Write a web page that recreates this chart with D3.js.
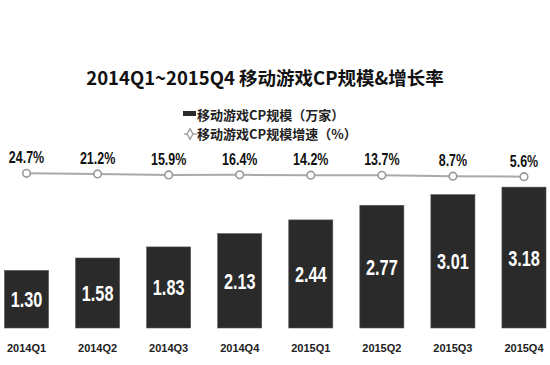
<!DOCTYPE html>
<html>
<head>
<meta charset="utf-8">
<script src="https://cdn.jsdelivr.net/npm/d3@7"></script>
<style>
  body { margin: 0; background: #fff; }
  svg { display: block; }
</style>
</head>
<body>
<script>
const quarters = ['2014Q1', '2014Q2', '2014Q3', '2014Q4', '2015Q1', '2015Q2', '2015Q3', '2015Q4'];
const cpCount = [1.30, 1.58, 1.83, 2.13, 2.44, 2.77, 3.01, 3.18];   // 万家
const growth = [24.7, 21.2, 15.9, 16.4, 14.2, 13.7, 8.7, 5.6];     // %

const W = 550, H = 365;
const cjk = '"Noto Sans CJK SC", "Noto Sans", sans-serif';
const latin = '"Liberation Sans", Arial, sans-serif';

const svg = d3.select('body').append('svg')
  .attr('width', W)
  .attr('height', H);

// x: one band per quarter
const x = d3.scaleBand()
  .domain(quarters)
  .range([-9, 559.5])
  .paddingInner(0.38)
  .paddingOuter(0.19);

// bars on their own scale, growth line on a very flat one
const y = d3.scaleLinear().domain([0, 4]).range([328, 328 - 177.2]);
const yPct = d3.scaleLinear().domain([0, 100]).range([177.7, 160]);

const cx = d => x(d) + x.bandwidth() / 2;

// title
svg.append('text')
  .attr('x', 265).attr('y', 85)
  .attr('text-anchor', 'middle')
  .style('font-family', cjk)
  .style('font-weight', 'bold')
  .style('font-size', '18.5px')
  .attr('fill', '#111')
  .text('2014Q1~2015Q4 移动游戏CP规模&增长率');

// legend
const lg = svg.append('g');
lg.append('rect')
  .attr('x', 183).attr('y', 111).attr('width', 13).attr('height', 5)
  .attr('fill', '#2a2a2a');
lg.append('text')
  .attr('x', 197).attr('y', 120)
  .style('font-family', cjk).style('font-weight', 'bold').style('font-size', '13px')
  .attr('fill', '#222')
  .text('移动游戏CP规模（万家）');
lg.append('line')
  .attr('x1', 184).attr('x2', 197).attr('y1', 134).attr('y2', 134)
  .attr('stroke', '#aaa').attr('stroke-width', 1.5);
lg.append('path')
  .attr('d', d3.symbol(d3.symbolDiamond, 30)())
  .attr('transform', 'translate(190,134)')
  .attr('fill', '#fff').attr('stroke', '#999').attr('stroke-width', 1.3);
lg.append('text')
  .attr('x', 197).attr('y', 139)
  .style('font-family', cjk).style('font-weight', 'bold').style('font-size', '13px')
  .attr('fill', '#222')
  .text('移动游戏CP规模增速（%）');

// bars
const rows = quarters.map((q, i) => ({ q, v: cpCount[i], g: growth[i] }));

svg.append('g').selectAll('rect')
  .data(rows)
  .join('rect')
  .attr('x', d => x(d.q))
  .attr('y', d => y(d.v))
  .attr('width', x.bandwidth())
  .attr('height', d => y(0) - y(d.v))
  .attr('fill', '#2a2a2a')
  .attr('stroke', '#555')
  .attr('stroke-width', 0.6);

// condensed look: squeeze the labels horizontally
svg.append('g').selectAll('text')
  .data(rows)
  .join('text')
  .attr('transform', d => `translate(${cx(d.q)},${(y(d.v) + y(0)) / 2 + 8}) scale(0.74,1)`)
  .attr('text-anchor', 'middle')
  .style('font-family', latin).style('font-weight', 'bold').style('font-size', '22px')
  .attr('fill', '#fff')
  .text(d => d.v.toFixed(2));

// growth line
const line = d3.line()
  .x(d => cx(d.q))
  .y(d => yPct(d.g));

svg.append('path')
  .datum(rows)
  .attr('d', line)
  .attr('fill', 'none')
  .attr('stroke', '#aaa')
  .attr('stroke-width', 2);

svg.append('g').selectAll('circle')
  .data(rows)
  .join('circle')
  .attr('cx', d => cx(d.q))
  .attr('cy', d => yPct(d.g))
  .attr('r', 3.8)
  .attr('fill', '#fff')
  .attr('stroke', '#999')
  .attr('stroke-width', 1.6);

svg.append('g').selectAll('text')
  .data(rows)
  .join('text')
  .attr('transform', d => `translate(${cx(d.q)},${yPct(d.g) - 10}) scale(0.78,1)`)
  .attr('text-anchor', 'middle')
  .style('font-family', latin).style('font-weight', 'bold').style('font-size', '16px')
  .attr('fill', '#111')
  .text(d => d.g.toFixed(1) + '%');

// category axis (labels only)
const xAxis = d3.axisBottom(x).tickSize(0).tickPadding(0);
const gx = svg.append('g')
  .attr('transform', 'translate(0,344)')
  .call(xAxis);
gx.select('.domain').remove();
gx.selectAll('text')
  .style('font-family', latin)
  .style('font-weight', 'bold')
  .style('font-size', '11px')
  .attr('fill', '#222');
</script>
</body>
</html>
